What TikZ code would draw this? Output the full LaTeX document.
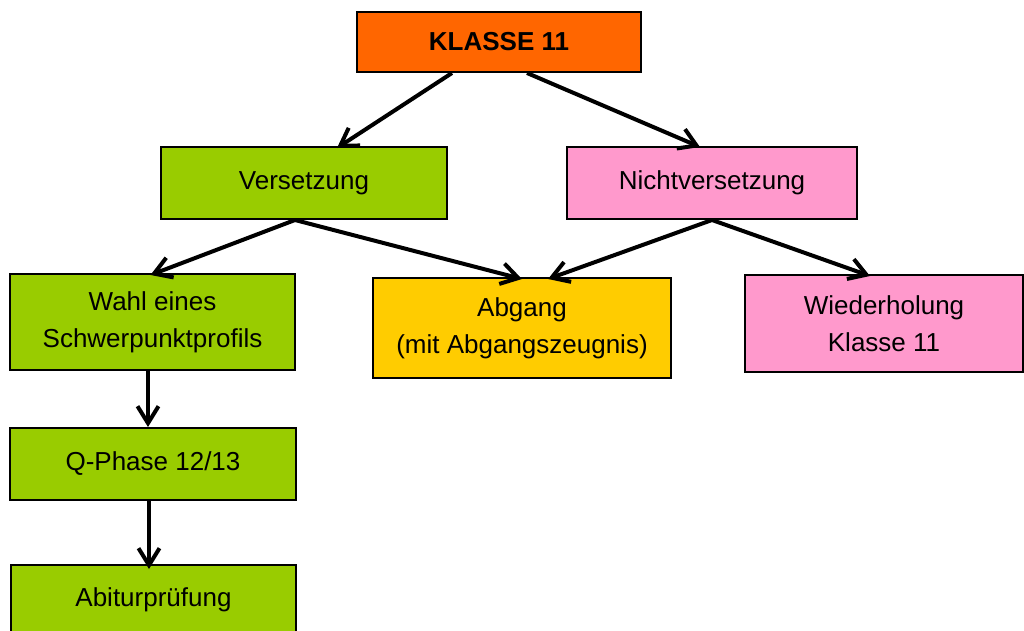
\documentclass[tikz,border=0pt]{standalone}
\usepackage{fontspec}
\setmainfont{Liberation Sans}
\usetikzlibrary{arrows.meta}
\definecolor{korange}{HTML}{FF6600}
\definecolor{kgreen}{HTML}{99CC00}
\definecolor{kpink}{HTML}{FF99CC}
\definecolor{kyellow}{HTML}{FFCC00}
\tikzset{
  box/.style={draw=black, line width=2pt, rectangle, align=center, inner sep=0pt,
    font=\fontsize{26}{37}\selectfont},
  arr/.style={line width=4pt, -{Straight Barb[length=17pt,width=21pt]}}
}
\begin{document}
\begin{tikzpicture}[x=1pt,y=-1pt]
\useasboundingbox (0,0) rectangle (1024,630);
\node[box, fill=korange, minimum width=284pt, minimum height=60pt, font=\fontsize{26}{37}\selectfont\bfseries] (K) at (499,42) {KLASSE 11};
\node[box, fill=kgreen, minimum width=286pt, minimum height=72pt] (V) at (304,183) {Versetzung};
\node[box, fill=kpink, minimum width=290pt, minimum height=72pt] (N) at (712,183) {Nichtversetzung};
\node[box, fill=kgreen, minimum width=285pt, minimum height=96pt] (W) at (152.5,322) {Wahl eines\\Schwerpunktprofils};
\node[box, fill=kyellow, minimum width=298pt, minimum height=100pt] (A) at (522,328) {Abgang\\(mit Abgangszeugnis)};
\node[box, fill=kpink, minimum width=278pt, minimum height=97pt] (R) at (884,323.5) {Wiederholung\\Klasse 11};
\node[box, fill=kgreen, minimum width=286pt, minimum height=72pt] (Q) at (153,464) {Q-Phase 12/13};
\node[box, fill=kgreen, minimum width=285pt, minimum height=72pt, text depth=0pt] (B) at (153.5,601) {\raisebox{8pt}{Abiturprüfung}};
\draw[arr] ([xshift=-47pt]K.south) -- ([xshift=33pt,yshift=-2pt]V.north);
\draw[arr] ([xshift=28pt]K.south) -- ([xshift=-12pt,yshift=-1pt]N.north);
\draw[arr] ([xshift=-9pt]V.south) -- ([xshift=-2pt,yshift=-2pt]W.north);
\draw[arr] ([xshift=-9pt]V.south) -- ([yshift=-2pt]A.north);
\draw[arr] (N.south) -- ([xshift=26pt,yshift=-2pt]A.north);
\draw[arr] (N.south) -- ([xshift=-14pt,yshift=-2pt]R.north);
\draw[arr] ([xshift=-4.5pt]W.south) -- ([xshift=-5pt]Q.north);
\draw[arr] ([xshift=-4pt]Q.south) -- ([xshift=-4.5pt,yshift=-5pt]B.north);
\end{tikzpicture}
\end{document}
